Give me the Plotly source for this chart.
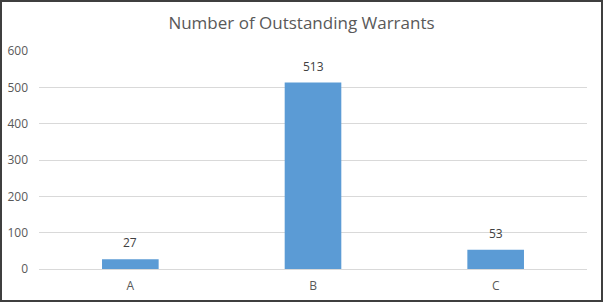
import plotly.graph_objects as go

categories = ["A", "B", "C"]
values = [27, 513, 53]
y_ticks = [0, 100, 200, 300, 400, 500, 600]

W, H = 603, 302
ml, mr, mt, mb = 39, 16, 51, 33
pw, ph = W - ml - mr, H - mt - mb

fig = go.Figure(go.Bar(
    x=categories, y=values, width=0.31,
    marker=dict(color="#5B9BD5", line=dict(width=0)),
    hoverinfo="x+y",
))

# data labels placed a few pixels above each bar
for c, v in zip(categories, values):
    fig.add_annotation(x=c, y=v, text=str(v), showarrow=False,
                       yanchor="bottom", yshift=6,
                       font=dict(family="Open Sans", size=12, color="#404040"))

fig.update_layout(
    width=W, height=H,
    margin=dict(l=ml, r=mr, t=mt, b=mb, autoexpand=False),
    paper_bgcolor="white", plot_bgcolor="white",
    showlegend=False,
    title=dict(text="Number of Outstanding Warrants", x=0.5, xanchor="center",
               y=1 - 23 / H, yanchor="middle",
               font=dict(family="Open Sans", size=17, color="#595959")),
    xaxis=dict(showgrid=False, showline=True, linecolor="#D9D9D9", linewidth=1,
               automargin=False,
               ticks="", tickfont=dict(family="Open Sans", size=12, color="#595959"),
               ticklabelstandoff=6),
    yaxis=dict(range=[0, 600], tickvals=y_ticks, showgrid=True, gridcolor="#D9D9D9",
               gridwidth=1, zeroline=False, showline=False, ticks="", automargin=False,
               tickfont=dict(family="Open Sans", size=12, color="#595959"),
               ticklabelstandoff=10),
)

# outer border of the chart image
fig.add_shape(type="rect", xref="paper", yref="paper",
              x0=(1 - ml) / pw, x1=(W - 1 - ml) / pw,
              y0=-(mb - 1) / ph, y1=1 + (mt - 1) / ph,
              line=dict(color="#3F3F3F", width=2), fillcolor="rgba(0,0,0,0)")

fig.write_html("out.html")
